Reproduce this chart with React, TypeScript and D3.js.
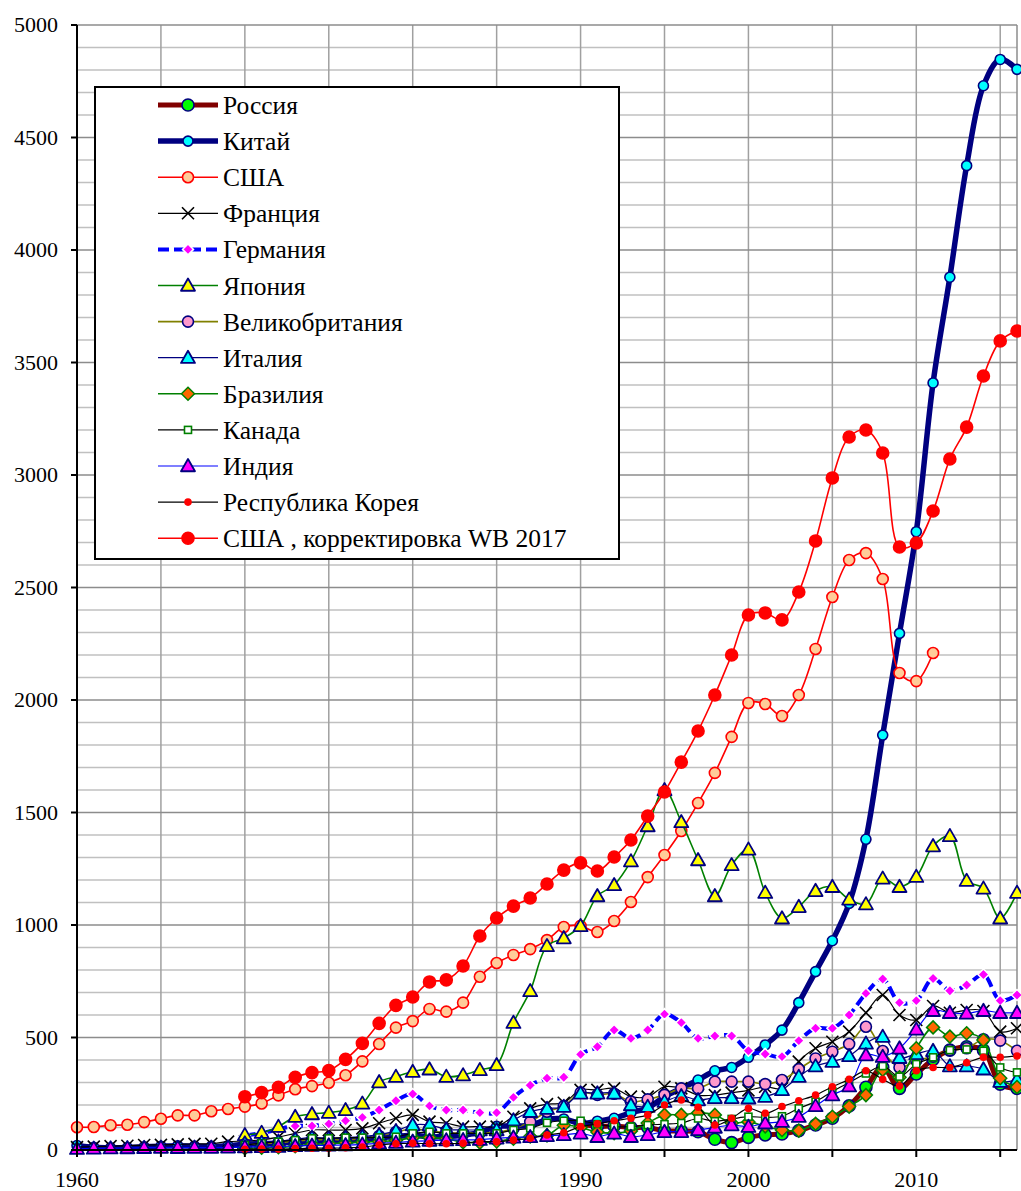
import React from 'react';
import * as d3 from 'd3';

// gross capital formation, bn US$
const russiaStart = 1990;
const russia = [115, 105, 107, 100, 100, 85, 85, 81, 48, 33, 56, 67, 71, 86, 111, 141, 196, 279, 367, 274, 338, 403, 444, 459, 444, 293, 274];

const chinaStart = 1960;
const china = [20, 12, 10, 11, 14, 17, 19, 17, 16, 19, 26, 29, 30, 36, 38, 43, 41, 44, 55, 60, 66, 58, 60, 66, 78, 105, 106, 110, 135, 138, 118, 128, 141, 166, 187, 237, 274, 311, 352, 367, 412, 467, 533, 655, 793, 930, 1096, 1381, 1844, 2296, 2748, 3409, 3879, 4375, 4730, 4847, 4803];

const usaStart = 1960;
const usa = [101, 102, 110, 112, 124, 139, 154, 154, 172, 182, 193, 207, 243, 270, 284, 299, 332, 394, 471, 544, 573, 627, 615, 655, 770, 831, 867, 893, 933, 991, 996, 969, 1018, 1102, 1213, 1311, 1418, 1542, 1676, 1836, 1987, 1982, 1929, 2022, 2227, 2458, 2622, 2653, 2538, 2120, 2084, 2209];

const franceStart = 1960;
const france = [13, 15, 17, 19, 22, 23, 25, 27, 28, 37, 40, 45, 57, 74, 89, 89, 89, 96, 119, 141, 156, 126, 119, 104, 104, 104, 148, 185, 204, 210, 267, 267, 274, 237, 237, 281, 274, 244, 244, 255, 265, 281, 274, 393, 452, 481, 526, 610, 689, 600, 578, 640, 610, 622, 618, 526, 541];

const germanyStart = 1970;
const germany = [65, 75, 92, 107, 107, 116, 130, 145, 178, 219, 249, 196, 178, 178, 166, 166, 234, 288, 319, 323, 425, 459, 533, 496, 533, 604, 566, 496, 507, 507, 441, 427, 415, 486, 541, 541, 600, 696, 760, 655, 664, 762, 708, 733, 780, 664, 689];

const japanStart = 1970;
const japan = [67, 77, 104, 148, 160, 166, 178, 207, 302, 326, 348, 359, 326, 333, 356, 378, 566, 707, 907, 942, 996, 1129, 1178, 1284, 1440, 1600, 1458, 1289, 1129, 1267, 1336, 1144, 1030, 1081, 1152, 1170, 1114, 1093, 1207, 1170, 1215, 1351, 1396, 1197, 1163, 1030, 1144];

const ukStart = 1970;
const uk = [25, 28, 32, 40, 45, 47, 45, 50, 62, 80, 93, 85, 78, 75, 76, 78, 95, 125, 170, 195, 255, 245, 250, 215, 225, 245, 274, 274, 304, 304, 304, 293, 311, 359, 407, 437, 471, 548, 440, 367, 398, 415, 444, 452, 492, 486, 441];

const italyStart = 1970;
const italy = [30, 33, 38, 48, 55, 52, 55, 60, 68, 85, 111, 111, 92, 89, 89, 89, 133, 170, 184, 193, 252, 252, 252, 200, 193, 215, 240, 222, 232, 232, 230, 237, 267, 326, 373, 393, 418, 474, 504, 410, 427, 441, 373, 373, 359, 304, 314];

const brazilStart = 1970;
const brazil = [8, 10, 12, 17, 25, 28, 32, 35, 38, 42, 55, 55, 50, 35, 33, 38, 50, 60, 65, 110, 100, 80, 75, 85, 120, 156, 156, 165, 156, 120, 125, 105, 89, 86, 116, 148, 193, 244, 356, 323, 452, 545, 504, 519, 489, 319, 280];

const canadaStart = 1970;
const canada = [22, 30, 37, 44, 52, 52, 55, 55, 56, 59, 74, 81, 74, 74, 74, 74, 89, 96, 121, 130, 130, 115, 104, 104, 111, 115, 120, 140, 128, 138, 148, 145, 150, 185, 215, 260, 300, 340, 373, 326, 382, 412, 444, 447, 441, 367, 345];

const indiaStart = 1960;
const india = [6, 7, 8, 9, 10, 11, 10, 11, 11, 12, 13, 14, 15, 18, 20, 21, 22, 25, 30, 33, 38, 42, 44, 45, 46, 52, 56, 58, 63, 67, 74, 59, 74, 59, 67, 81, 81, 89, 100, 111, 104, 119, 126, 148, 196, 244, 284, 422, 415, 452, 536, 619, 610, 607, 619, 610, 610];

const koreaStart = 1970;
const korea = [3, 4, 4, 6, 8, 8, 10, 13, 22, 28, 30, 28, 28, 30, 37, 37, 44, 52, 67, 77, 104, 116, 130, 141, 156, 200, 222, 190, 111, 141, 185, 163, 193, 219, 244, 281, 314, 352, 314, 284, 352, 367, 367, 388, 412, 412, 418];

const usaWbStart = 1970;
const usaWb = [237, 255, 279, 323, 344, 353, 403, 474, 563, 643, 680, 747, 756, 818, 951, 1031, 1084, 1120, 1182, 1244, 1276, 1240, 1302, 1378, 1484, 1591, 1724, 1862, 2022, 2200, 2378, 2387, 2356, 2480, 2707, 2987, 3169, 3200, 3098, 2680, 2698, 2840, 3071, 3213, 3440, 3596, 3640];

const yTicks = [0, 500, 1000, 1500, 2000, 2500, 3000, 3500, 4000, 4500, 5000];
const xLabels = [1960, 1970, 1980, 1990, 2000, 2010];

const W = 1021;
const H = 1191;
const font = '"Liberation Serif", "DejaVu Serif", serif';

const series = [
  { name: 'Россия', start: russiaStart, data: russia, stroke: '#800000', width: 5, marker: 'circle', size: 6, fill: '#00ff00', mstroke: '#000080' },
  { name: 'Китай', start: chinaStart, data: china, stroke: '#000080', width: 5.5, marker: 'circle', size: 5, fill: '#00ffff', mstroke: '#000080' },
  { name: 'США', start: usaStart, data: usa, stroke: '#ff0000', width: 1.6, marker: 'circle', size: 5.5, fill: '#ffcc99', mstroke: '#ff0000' },
  { name: 'Франция', start: franceStart, data: france, stroke: '#000000', width: 1.2, marker: 'x', size: 6, fill: 'none', mstroke: '#000000' },
  { name: 'Германия', start: germanyStart, data: germany, stroke: '#0000ff', width: 4, dash: '11,5', marker: 'diamond', size: 5.5, fill: '#ff00ff', mstroke: '#ffffff' },
  { name: 'Япония', start: japanStart, data: japan, stroke: '#008000', width: 1.6, marker: 'triangle', size: 7, fill: '#ffff00', mstroke: '#000080' },
  { name: 'Великобритания', start: ukStart, data: uk, stroke: '#808000', width: 1.6, marker: 'circle', size: 5.5, fill: '#ff99cc', mstroke: '#000080' },
  { name: 'Италия', start: italyStart, data: italy, stroke: '#000080', width: 1.2, marker: 'triangle', size: 7, fill: '#00ffff', mstroke: '#000080' },
  { name: 'Бразилия', start: brazilStart, data: brazil, stroke: '#008000', width: 1.6, marker: 'diamond', size: 6.5, fill: '#ff6600', mstroke: '#008000' },
  { name: 'Канада', start: canadaStart, data: canada, stroke: '#000000', width: 1.2, marker: 'square', size: 3.5, fill: '#ffffff', mstroke: '#008000' },
  { name: 'Индия', start: indiaStart, data: india, stroke: '#0000ff', width: 1.2, marker: 'triangle', size: 7, fill: '#ff00ff', mstroke: '#000080' },
  { name: 'Республика Корея', start: koreaStart, data: korea, stroke: '#000000', width: 1.2, marker: 'dot', size: 3.8, fill: '#ff0000', mstroke: 'none' },
  { name: 'США , корректировка WB 2017', start: usaWbStart, data: usaWb, stroke: '#ff0000', width: 1.6, marker: 'circle', size: 6, fill: '#ff0000', mstroke: '#ff0000' },
];

function Marker({ s, x, y }) {
  const r = s.size;
  if (s.marker === 'circle')
    return <circle cx={x} cy={y} r={r} fill={s.fill} stroke={s.mstroke} strokeWidth={1.6} />;
  if (s.marker === 'dot')
    return <circle cx={x} cy={y} r={r} fill={s.fill} />;
  if (s.marker === 'x')
    return (
      <path d={`M${x - r},${y - r}L${x + r},${y + r}M${x - r},${y + r}L${x + r},${y - r}`} stroke={s.mstroke} strokeWidth={1.6} fill="none" />
    );
  if (s.marker === 'diamond')
    return <path d={`M${x},${y - r}L${x + r},${y}L${x},${y + r}L${x - r},${y}Z`} fill={s.fill} stroke={s.mstroke} strokeWidth={1.5} />;
  if (s.marker === 'square')
    return <rect x={x - r} y={y - r} width={2 * r} height={2 * r} fill={s.fill} stroke={s.mstroke} strokeWidth={1.6} />;
  // triangle
  return (
    <path d={`M${x},${y - r}L${x + r},${y + r * 0.75}L${x - r},${y + r * 0.75}Z`} fill={s.fill} stroke={s.mstroke} strokeWidth={1.8} strokeLinejoin="round" />
  );
}

export default function App() {
  const x = d3.scaleLinear().domain([1960, 2016]).range([77, 1017]);
  const y = d3.scaleLinear().domain([0, 5000]).range([1150, 25]);

  const minor = d3.range(100, 5000, 100).filter((v) => v % 500 !== 0);
  const vgrid = d3.range(1965, 2016, 5);

  const line = d3
    .line()
    .x((d) => x(d[0]))
    .y((d) => y(d[1]))
    .curve(d3.curveCatmullRom.alpha(0.5));

  const pts = (s) => s.data.map((v, i) => [s.start + i, v]);
  const txt = { fontFamily: font };

  return (
    <svg width={W} height={H} style={{ position: 'absolute', left: 0, top: 0, background: '#fff' }}>
      <rect x={0} y={0} width={W} height={H} fill="#fff" />
      {/* grid */}
      {minor.map((v) => (
        <line key={'m' + v} x1={x(1960)} x2={x(2016)} y1={y(v)} y2={y(v)} stroke="#c0c0c0" strokeWidth={1.5} />
      ))}
      {vgrid.map((v) => (
        <line key={'v' + v} x1={x(v)} x2={x(v)} y1={y(5000)} y2={y(0)} stroke="#a0a0a0" strokeWidth={1.5} />
      ))}
      {yTicks.slice(1).map((v) => (
        <line key={'M' + v} x1={x(1960)} x2={x(2016)} y1={y(v)} y2={y(v)} stroke="#8c8c8c" strokeWidth={1.5} />
      ))}
      <line x1={x(2016)} x2={x(2016)} y1={y(5000)} y2={y(0)} stroke="#8c8c8c" strokeWidth={1.5} />

      {/* series */}
      {series.map((s) => (
        <g key={s.name}>
          <path d={line(pts(s))} fill="none" stroke={s.stroke} strokeWidth={s.width} strokeDasharray={s.dash} strokeLinejoin="round" />
          {pts(s).map((p) => (
            <Marker key={p[0]} s={s} x={x(p[0])} y={y(p[1])} />
          ))}
        </g>
      ))}

      {/* axes */}
      <line x1={x(1960)} x2={x(1960)} y1={y(5000)} y2={y(0) + 1} stroke="#000" strokeWidth={2} />
      <line x1={x(1960) - 1} x2={x(2016)} y1={y(0)} y2={y(0)} stroke="#000" strokeWidth={2} />
      {yTicks.map((v) => (
        <g key={'yt' + v}>
          <line x1={x(1960) - 6} x2={x(1960)} y1={y(v)} y2={y(v)} stroke="#000" strokeWidth={2} />
          <text x={58} y={y(v) + 7} textAnchor="end" fontSize={22} fill="#000" style={txt}>
            {v}
          </text>
        </g>
      ))}
      {d3.range(1960, 2017, 5).map((v) => (
        <line key={'xt' + v} x1={x(v)} x2={x(v)} y1={y(0)} y2={y(0) + 7} stroke="#000" strokeWidth={2} />
      ))}
      {xLabels.map((v) => (
        <text key={'xl' + v} x={x(v)} y={1187} textAnchor="middle" fontSize={22} fill="#000" style={txt}>
          {v}
        </text>
      ))}

      {/* legend */}
      <rect x={95} y={87} width={524} height={472} fill="#fff" stroke="#000" strokeWidth={2} />
      {series.map((s, i) => {
        const ly = 105 + i * 36.1;
        return (
          <g key={'lg' + s.name}>
            <line x1={158} x2={218} y1={ly} y2={ly} stroke={s.stroke} strokeWidth={s.width} strokeDasharray={s.dash} />
            <Marker s={s} x={188} y={ly} />
            <text x={223} y={ly + 9} fontSize={25.5} fill="#000" style={txt}>
              {s.name}
            </text>
          </g>
        );
      })}
    </svg>
  );
}
